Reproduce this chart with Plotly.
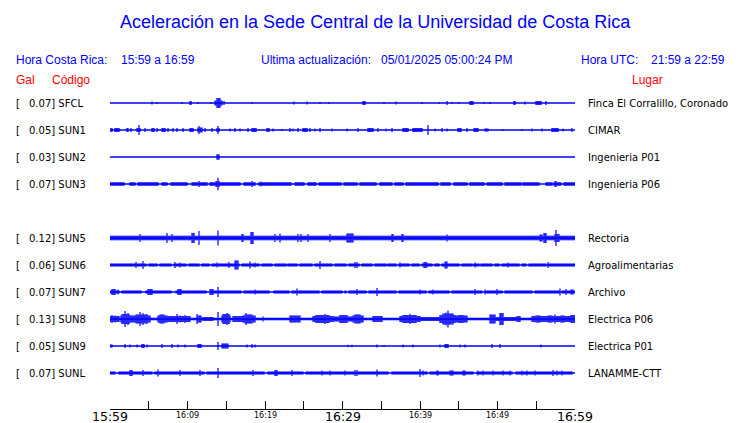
import plotly.graph_objects as go

# ---------------- data ----------------
stations = ["SFCL", "SUN1", "SUN2", "SUN3", "SUN5", "SUN6", "SUN7", "SUN8", "SUN9", "SUNL"]
max_gal = [0.07, 0.05, 0.03, 0.07, 0.12, 0.06, 0.07, 0.13, 0.05, 0.07]
places = ["Finca El Corralillo, Coronado", "CIMAR", "Ingenieria P01", "Ingenieria P06",
          "Rectoria", "Agroalimentarias", "Archivo", "Electrica P06", "Electrica P01", "LANAMME-CTT"]

# background (continuous) half-amplitude of each record, relative units
base_amp = [0, 0, 0, 1.7, 2.3, 1.4, 1.5, 1.3, 0, 1.5]

# bursts read from the records: (start minute, end minute, half-amplitude)
sfcl_bursts = [(5.4, 5.4, 1.5), (6.1, 6.1, 1), (9.3, 9.3, 1), (10.3, 10.4, 2), (11.4, 11.4, 1),
               (13.0, 13.0, 1), (13.6, 14.4, 2.5), (13.8, 14.2, 5), (14.7, 14.7, 2), (18.3, 18.3, 1),
               (23.7, 23.7, 1.5), (25.4, 25.4, 1.5), (27.1, 27.1, 1), (28.3, 28.3, 1), (32.6, 32.9, 2),
               (35.4, 35.4, 1), (36.9, 36.9, 1.5), (40.3, 40.3, 1), (42.5, 42.5, 1), (43.5, 43.5, 2),
               (44.1, 44.1, 1), (45.0, 45.0, 1), (46.4, 46.9, 2), (48.3, 48.3, 1), (49.0, 49.0, 1),
               (52.1, 52.2, 2), (53.5, 53.5, 1.5), (55.0, 55.6, 2), (56.3, 56.3, 2)]
sun1_bursts = [(0.1, 0.3, 2), (0.6, 1.1, 2), (2.2, 2.3, 2), (2.7, 2.7, 2), (3.5, 3.9, 2), (3.8, 3.8, 5),
               (4.5, 4.5, 2), (5.4, 5.7, 2), (6.1, 6.1, 2), (6.7, 7.1, 2), (7.5, 7.5, 2), (8.1, 8.1, 2),
               (8.6, 8.6, 2), (9.4, 9.4, 2), (10.3, 10.7, 2), (11.3, 11.9, 2.5), (11.5, 11.5, 4),
               (12.3, 12.3, 2), (13.2, 13.2, 2), (13.8, 14.1, 2), (13.9, 13.9, 4), (15.5, 15.5, 1.5),
               (16.1, 16.1, 2), (16.8, 16.8, 1.5), (17.8, 17.8, 2), (18.3, 18.9, 2), (20.3, 20.5, 2),
               (21.0, 21.0, 1.5), (22.2, 22.2, 1), (23.2, 23.2, 2), (23.6, 23.6, 1.5), (24.3, 24.3, 2),
               (24.9, 25.4, 2), (25.8, 25.8, 2), (26.4, 26.4, 1.5), (27.1, 27.1, 2), (28.6, 28.6, 1.5),
               (30.6, 30.6, 1.5), (32.0, 32.0, 2), (33.3, 33.9, 2), (34.6, 34.6, 2), (35.6, 35.6, 1.5),
               (36.4, 36.4, 2), (37.8, 38.5, 2), (39.1, 39.7, 2), (39.9, 40.3, 2), (41.0, 41.0, 5),
               (41.9, 41.9, 1.5), (42.8, 42.8, 2), (43.5, 43.5, 1.5), (44.9, 45.3, 2), (46.1, 46.1, 2),
               (47.0, 47.5, 2), (48.4, 48.8, 1.5), (50.7, 50.7, 1), (53.2, 53.2, 1), (54.5, 54.5, 1.5),
               (55.7, 55.7, 1.5), (57.0, 57.8, 2), (58.5, 58.5, 1.5), (59.6, 59.6, 2)]
sun2_bursts = [(13.8, 14.1, 2.7)]
sun3_bursts = [(11.5, 11.5, 3), (13.7, 14.1, 3), (13.9, 13.9, 6), (18.3, 18.3, 3), (19.5, 19.5, 2.5),
               (57.4, 57.5, 3)]
sun5_bursts = [(3.9, 3.9, 4), (7.4, 7.4, 5), (8.0, 8.0, 4), (10.6, 10.9, 5), (11.5, 11.5, 7),
               (13.9, 13.9, 7.5), (17.0, 17.2, 4), (18.2, 18.5, 6), (21.3, 21.3, 4), (21.9, 21.9, 4.5),
               (24.3, 24.3, 4), (24.6, 24.6, 4), (25.6, 25.6, 4), (28.4, 28.4, 4), (30.6, 31.3, 4.5),
               (36.4, 36.5, 4), (37.7, 37.8, 4), (43.5, 43.5, 3.5), (55.5, 55.8, 3.5), (56.0, 56.3, 5),
               (57.4, 57.9, 4), (57.6, 57.6, 8)]
sun6_bursts = [(3.4, 3.4, 3), (4.3, 4.3, 4), (8.4, 8.4, 3), (9.0, 9.0, 2.5), (13.8, 13.8, 2.5),
               (15.3, 15.3, 3), (16.1, 16.5, 4.5), (18.1, 18.1, 3.5), (18.7, 18.7, 2.5), (27.1, 27.1, 4),
               (31.6, 31.6, 3), (31.9, 31.9, 3), (37.4, 37.4, 2.5), (40.5, 40.8, 3), (40.9, 40.9, 2.5),
               (43.2, 43.5, 3.5), (47.1, 47.1, 2.5), (51.3, 51.3, 2.5), (56.5, 56.5, 3)]
sun7_bursts = [(0.2, 0.6, 3), (1.0, 1.0, 2.5), (4.9, 5.4, 3), (8.8, 9.2, 3), (12.9, 13.3, 3),
               (13.9, 13.9, 5), (18.7, 18.7, 2.5), (24.1, 24.1, 3.5), (31.9, 31.9, 3), (34.5, 34.5, 4),
               (40.0, 40.0, 2.5), (41.7, 41.7, 2.5), (47.1, 47.1, 3), (48.4, 48.4, 2.5), (49.9, 49.9, 3),
               (58.1, 58.1, 3.5), (58.9, 58.9, 3), (59.5, 59.8, 2.5)]
sun8_bursts = [(0.0, 1.1, 3), (0.3, 0.3, 4), (0.7, 0.7, 3.5),
               (1.4, 2.8, 3.5), (1.6, 2.5, 5), (1.98, 1.98, 8), (2.3, 2.3, 6),
               (3.0, 5.2, 3.5), (3.4, 4.6, 4.5), (3.87, 3.87, 7), (4.2, 4.2, 6), (4.8, 4.8, 5),
               (6.2, 7.3, 3.5), (6.5, 7.0, 4.5),
               (7.5, 10.3, 3), (8.6, 8.6, 5), (9.0, 9.0, 3.5), (9.7, 9.7, 4),
               (11.2, 11.8, 3.5), (11.2, 11.2, 5), (12.0, 13.3, 2), (13.98, 13.98, 7),
               (14.4, 15.5, 3.5), (14.6, 15.3, 5), (15.05, 15.05, 6), (15.9, 17.2, 3),
               (17.2, 18.7, 3.5), (17.4, 18.3, 4.5), (17.6, 17.6, 6), (19.8, 19.8, 2.5),
               (23.2, 24.5, 3.5), (26.2, 28.8, 3), (26.6, 28.2, 4), (27.7, 27.7, 5),
               (28.8, 31.4, 2.5), (29.7, 30.6, 4), (31.4, 32.6, 3.5), (31.6, 32.3, 4.5),
               (33.9, 35.1, 3), (37.4, 40.0, 3), (37.8, 39.5, 4), (38.7, 38.7, 5), (40.0, 42.6, 2),
               (42.6, 44.5, 4), (43.0, 44.2, 5.5), (43.3, 43.3, 6.5), (43.6, 43.6, 8.5),
               (44.5, 46.1, 3.5), (45.0, 45.6, 4), (49.0, 49.7, 4.5), (49.7, 52.5, 2),
               (50.3, 50.7, 6), (52.5, 52.9, 3), (54.5, 59.8, 3), (55.0, 55.5, 3.5), (56.5, 57.0, 3.5),
               (57.4, 57.4, 4.5), (58.2, 58.6, 3.5), (59.5, 60.0, 4)]
sun9_bursts = [(0.0, 0.2, 1.5), (1.9, 1.9, 2), (2.6, 2.6, 1.5), (3.5, 3.5, 1.5), (4.1, 4.4, 2),
               (4.8, 4.8, 1.5), (6.7, 6.7, 2), (8.0, 8.0, 2), (8.8, 8.8, 1.5), (9.7, 9.7, 1.5),
               (11.4, 11.7, 2), (13.9, 13.9, 4), (14.5, 15.2, 2.5), (17.7, 17.7, 1.5), (18.3, 18.3, 2),
               (18.7, 18.7, 1.5), (30.7, 30.7, 1.2), (31.2, 31.2, 1.2), (34.5, 34.5, 1.5), (35.4, 35.4, 1),
               (37.8, 37.8, 1.5), (39.1, 39.1, 1.5), (42.6, 42.6, 1.5), (43.2, 43.6, 2), (45.2, 45.2, 1.5),
               (45.8, 45.8, 1.5), (49.3, 49.3, 2), (50.3, 50.3, 2), (55.6, 55.6, 1.5)]
sunl_bursts = [(2.6, 2.8, 3), (4.3, 4.3, 3), (6.2, 6.2, 3.5), (9.0, 9.0, 3), (11.6, 11.6, 3),
               (13.9, 13.9, 5), (18.5, 18.5, 3), (21.3, 21.6, 3), (23.5, 23.5, 3), (27.4, 27.4, 2.5),
               (28.4, 28.4, 2.5), (30.3, 30.3, 2.5), (31.6, 31.6, 3), (31.9, 31.9, 3), (34.5, 34.5, 3.5),
               (40.0, 40.0, 4), (40.4, 40.4, 2.5), (42.2, 42.3, 2.5), (43.9, 44.3, 2.5), (45.5, 45.8, 2.5),
               (47.5, 47.5, 2.5), (48.1, 48.1, 2.5), (49.4, 49.4, 2.5), (50.7, 50.7, 2.5), (51.6, 51.6, 2.5),
               (53.2, 53.2, 2.5), (53.8, 53.8, 2.5), (54.8, 54.8, 2.5), (57.2, 57.2, 3), (57.7, 57.7, 2.5),
               (58.3, 58.3, 2.5)]

# quiet stretches where the background drops to the bare trace: (start minute, end minute)
sun3_gaps = [(2.0, 2.4), (3.3, 3.5), (6.3, 6.6), (7.5, 7.8), (10.1, 10.4), (12.6, 12.8), (16.9, 17.2),
             (18.9, 19.1), (23.5, 23.8), (25.1, 25.4), (26.7, 26.8), (29.9, 30.1), (32.0, 32.1),
             (34.5, 34.7), (36.5, 36.6), (38.0, 38.1), (42.5, 42.6), (44.0, 44.3), (46.2, 46.3),
             (48.4, 48.5), (50.7, 50.8), (53.1, 53.2), (55.5, 56.1), (57.1, 57.2), (58.3, 58.4)]
sun6_gaps = [(4.8, 4.9), (6.2, 6.3), (8.0, 8.1), (9.9, 10.0), (11.6, 11.7), (12.9, 13.0), (16.8, 16.9),
             (19.4, 19.5), (21.0, 21.1), (22.8, 22.9), (24.3, 24.4), (26.2, 26.3), (28.8, 28.9),
             (30.6, 30.7), (32.3, 32.4), (33.9, 34.0), (35.7, 35.8), (37.0, 37.1), (38.7, 38.8),
             (40.0, 40.1), (41.7, 41.8), (42.6, 42.7), (45.2, 45.3), (46.8, 46.9), (47.7, 47.8),
             (49.4, 49.5), (50.3, 50.4), (52.9, 53.0), (53.8, 53.9), (56.4, 56.5)]
sun7_gaps = [(1.3, 1.4), (4.1, 4.5), (8.0, 8.4), (12.5, 12.9), (17.0, 17.1), (20.6, 21.0), (23.2, 23.3),
             (27.1, 27.2), (30.1, 30.2), (30.6, 30.7), (33.2, 33.3), (37.0, 37.1), (40.9, 41.0),
             (43.9, 44.0), (48.1, 48.2), (50.7, 50.8), (54.6, 54.7), (58.1, 58.2)]
sunl_gaps = [(0.8, 1.0), (5.5, 5.7), (12.2, 12.4), (20.0, 20.2), (25.0, 25.2), (36.0, 36.2),
             (41.0, 41.2), (47.0, 47.2), (52.0, 52.2), (59.8, 60.0)]

bursts = [sfcl_bursts, sun1_bursts, sun2_bursts, sun3_bursts, sun5_bursts,
          sun6_bursts, sun7_bursts, sun8_bursts, sun9_bursts, sunl_bursts]
gaps = [[], [], [], sun3_gaps, [], sun6_gaps, sun7_gaps, [], [], sunl_gaps]

tick_minutes = [0, 5, 10, 15, 20, 25, 30, 35, 40, 45, 50, 55, 60]
major_ticks = [0, 30, 60]
major_labels = ["15:59", "16:29", "16:59"]
minor_ticks = [10, 20, 40, 50]
minor_labels = ["16:09", "16:19", "16:39", "16:49"]

# ---------------- layout helpers ----------------
W, H = 740, 423
ML, MR, MT, MB = 110, 165, 89, 14
PW, PH = W - ML - MR, H - MT - MB
ROW_PX = 27.0
FIRST_ROW_OFFSET = 14.0
y_top = -FIRST_ROW_OFFSET / ROW_PX
y_bot = y_top + PH / ROW_PX
row_slot = [0, 1, 2, 3, 5, 6, 7, 8, 9, 10]
BLUE = "#0000ff"
RED = "#ff0000"
SANS = "Liberation Sans, Arial, sans-serif"
DJV = "DejaVu Sans, sans-serif"


def px_x(px):
    return (px - ML) / PW


def px_y(py):
    return (H - MB - py) / PH


fig = go.Figure()

N = PW
dt = 60.0 / N
ts = [i * dt for i in range(N + 1)]

for k, st in enumerate(stations):
    row = row_slot[k]
    xs, ys = [], []
    for t in ts:
        a = base_amp[k]
        for g0, g1 in gaps[k]:
            if g0 - dt / 2 <= t <= g1 + dt / 2:
                a = 0
        for s, e, amp in bursts[k]:
            if s - dt / 2 <= t <= e + dt / 2:
                a = max(a, amp)
        if a > 0:
            h = a / ROW_PX
            xs += [t, t, None]
            ys += [row - h, row + h, None]
    fig.add_trace(go.Scatter(x=[0, 60], y=[row, row], mode="lines",
                             line=dict(color=BLUE, width=1.3), hoverinfo="skip", showlegend=False))
    fig.add_trace(go.Scatter(x=xs, y=ys, mode="lines", line=dict(color=BLUE, width=1.2),
                             hoverinfo="skip", showlegend=False, connectgaps=False))

annotations = []


def add_px_text(px, py, text, size, color, font=SANS, xanchor="left"):
    annotations.append(dict(x=px_x(px), y=px_y(py), xref="paper", yref="paper", text=text,
                            showarrow=False, xanchor=xanchor, yanchor="middle",
                            font=dict(family=font, size=size, color=color)))


add_px_text(375, 22, "Aceleración en la Sede Central de la Universidad de Costa Rica", 18, BLUE,
            xanchor="center")
add_px_text(14, 60, "Hora Costa Rica:", 12, BLUE)
add_px_text(119, 60, "15:59 a 16:59", 12, BLUE)
add_px_text(259, 60, "Ultima actualización:", 12, BLUE)
add_px_text(379, 60, "05/01/2025 05:00:24 PM", 12, BLUE)
add_px_text(579, 60, "Hora UTC:", 12, BLUE)
add_px_text(649, 60, "21:59 a 22:59", 12, BLUE)
add_px_text(14, 80, "Gal", 12, RED)
add_px_text(50, 80, "Código", 12, RED)
add_px_text(630, 80, "Lugar", 12, RED)

for k, st in enumerate(stations):
    row = row_slot[k]
    annotations.append(dict(x=px_x(14), y=row, xref="paper", yref="y", text="[",
                            showarrow=False, xanchor="left", yanchor="middle",
                            font=dict(family=DJV, size=10, color="black")))
    annotations.append(dict(x=px_x(27), y=row, xref="paper", yref="y",
                            text=f"{max_gal[k]:.2f}] {st}",
                            showarrow=False, xanchor="left", yanchor="middle",
                            font=dict(family=DJV, size=10, color="black")))
    annotations.append(dict(x=px_x(586), y=row, xref="paper", yref="y", text=places[k],
                            showarrow=False, xanchor="left", yanchor="middle",
                            font=dict(family=DJV, size=10, color="black")))

for t, lab in zip(major_ticks, major_labels):
    annotations.append(dict(x=t, y=0, xref="x", yref="paper", text=lab, showarrow=False,
                            xanchor="center", yanchor="middle", yshift=-7, borderpad=0,
                            font=dict(family=DJV, size=12.5, color="black")))
for t, lab in zip(minor_ticks, minor_labels):
    annotations.append(dict(x=t, y=0, xref="x", yref="paper", text=lab, showarrow=False,
                            xanchor="center", yanchor="middle", yshift=-6, borderpad=0,
                            font=dict(family=DJV, size=8, color="black")))

fig.update_layout(
    width=W, height=H,
    margin=dict(l=ML, r=MR, t=MT, b=MB, pad=0),
    paper_bgcolor="white", plot_bgcolor="white",
    showlegend=False,
    annotations=annotations,
    xaxis=dict(range=[0, 60], showgrid=False, zeroline=False, showline=True, linecolor="black",
               linewidth=1, ticks="inside", ticklen=8, tickwidth=1, tickcolor="black",
               tickvals=tick_minutes, showticklabels=False, fixedrange=True),
    yaxis=dict(range=[y_bot, y_top], showgrid=False, zeroline=False, showline=False,
               showticklabels=False, ticks="", fixedrange=True),
)

fig.write_html("out.html", config={"displayModeBar": False},
               post_script="document.body.style.margin='0px';document.body.style.overflow='hidden';")
